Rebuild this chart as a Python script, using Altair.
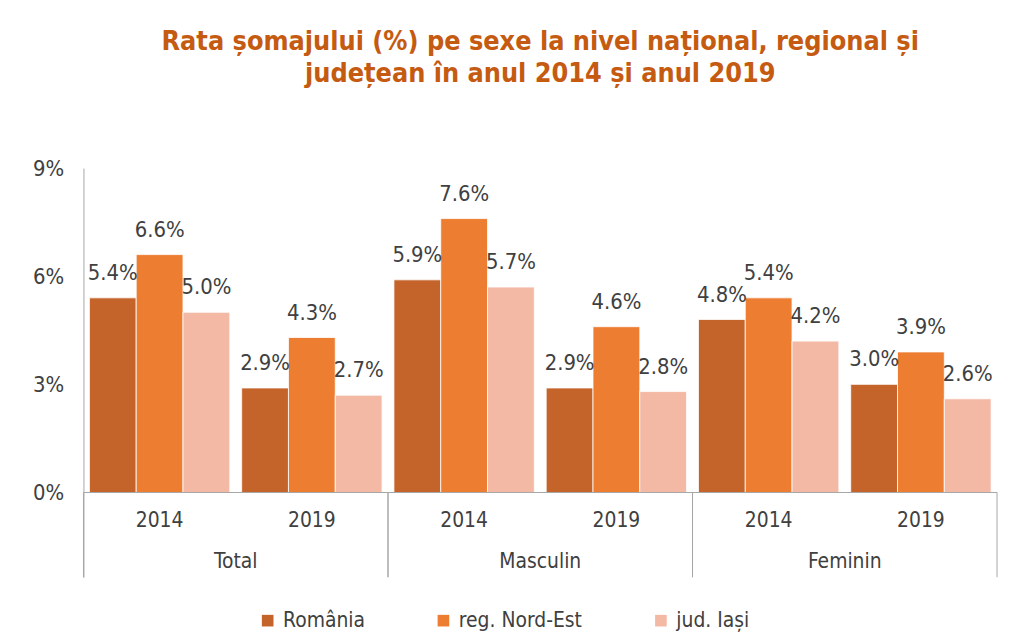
import altair as alt
import pandas as pd

groups = ["Total", "Masculin", "Feminin"]
years = ["2014", "2019"]
series = ["România", "reg. Nord-Est", "jud. Iași"]
colors = ["#C4632A", "#ED7D31", "#F4B9A5"]

# values per (group, year) in order: Total 2014, Total 2019, Masculin 2014, ...
romania = [5.4, 2.9, 5.9, 2.9, 4.8, 3.0]
nord_est = [6.6, 4.3, 7.6, 4.6, 5.4, 3.9]
iasi = [5.0, 2.7, 5.7, 2.8, 4.2, 2.6]

rows = []
for s, vals in zip(series, [romania, nord_est, iasi]):
    i = 0
    for g in groups:
        for y in years:
            rows.append({"group": g, "year": y, "key": g + " " + y,
                         "series": s, "value": vals[i]})
            i += 1
df = pd.DataFrame(rows)
keys = [g + " " + y for g in groups for y in years]

FONT = "DejaVu Sans Condensed"
TXT = "#404040"
AX = "#A6A6A6"
W, H = 920, 412

yscale = alt.Scale(domain=[-2.35, 9], nice=False, zero=False)
yax = alt.Axis(values=[0, 3, 6, 9], labelExpr="datum.value + '%'",
               grid=False, ticks=False, domainColor=AX,
               labelFontSize=22, labelColor=TXT, labelFont=FONT, labelPadding=20)

xkey = alt.X("key:N", sort=keys, axis=None,
             scale=alt.Scale(paddingInner=0.078, paddingOuter=0.039))
xoff = alt.XOffset("series:N", sort=series, scale=alt.Scale(paddingInner=0, paddingOuter=0))
xgrp = alt.X("group:N", sort=groups, axis=None,
             scale=alt.Scale(paddingInner=0, paddingOuter=0))

bars = alt.Chart(df).mark_bar(stroke="white", strokeWidth=0.8).encode(
    x=xkey, xOffset=xoff,
    y=alt.Y("value:Q", title=None, scale=yscale, axis=yax),
    color=alt.Color("series:N", sort=series,
                    scale=alt.Scale(domain=series, range=colors),
                    legend=alt.Legend(title=None, orient="none", direction="horizontal",
                                      legendX=175, legendY=445,
                                      symbolType="square", symbolSize=137,
                                      symbolStrokeWidth=0,
                                      labelFontSize=21, labelColor=TXT, labelFont=FONT,
                                      columnPadding=68, labelOffset=5)),
)

labels = alt.Chart(df).mark_text(baseline="bottom", dy=-13, fontSize=22,
                                 color=TXT, font=FONT).encode(
    x=xkey, xOffset=xoff, y=alt.Y("value:Q"), text="label:N"
).transform_calculate(label="format(datum.value, '.1f') + '%'")

first_series = alt.Chart(df).transform_filter(f"datum.series == '{series[0]}'")
year_labels = first_series.mark_text(fontSize=21, color=TXT, font=FONT,
                                     baseline="middle").encode(
    x=xkey, y=alt.datum(-0.78), text="year:N"
)

per_group = first_series.transform_filter(f"datum.year == '{years[0]}'")
group_labels = per_group.mark_text(fontSize=21, color=TXT, font=FONT,
                                   baseline="middle").encode(
    x=xgrp, y=alt.datum(-1.94), text="group:N"
)

sep_l = per_group.mark_rule(color=AX, strokeWidth=1).encode(
    x=alt.X("group:N", sort=groups, axis=None, bandPosition=0,
            scale=alt.Scale(paddingInner=0, paddingOuter=0)),
    y=alt.datum(0), y2=alt.datum(-2.35)
)
sep_r = per_group.mark_rule(color=AX, strokeWidth=1).encode(
    x=alt.X("group:N", sort=groups, axis=None, bandPosition=1,
            scale=alt.Scale(paddingInner=0, paddingOuter=0)),
    y=alt.datum(0), y2=alt.datum(-2.35)
)
baseline = alt.Chart(df).transform_filter(
    "datum.key == 'Total 2014' && datum.series == 'România'").mark_rule(
    color=AX, strokeWidth=1).encode(
    x=alt.value(0), x2=alt.value(W), y=alt.datum(0)
)

chart = alt.layer(
    bars, labels, year_labels, group_labels, sep_l, sep_r, baseline
).resolve_scale(x="independent").properties(
    width=W, height=H,
    title=alt.Title(["Rata șomajului (%) pe sexe la nivel național, regional și",
                     "județean în anul 2014 și anul 2019"],
                    fontSize=27, font="DejaVu Sans Condensed", fontWeight="bold",
                    color="#C55A11", anchor="middle", offset=70, lineHeight=32),
    padding={"left": 24, "top": 18, "right": 5, "bottom": 5},
    background="white",
).configure_view(stroke=None)

chart.save("out.html", embed_options={"renderer": "svg", "actions": False})
